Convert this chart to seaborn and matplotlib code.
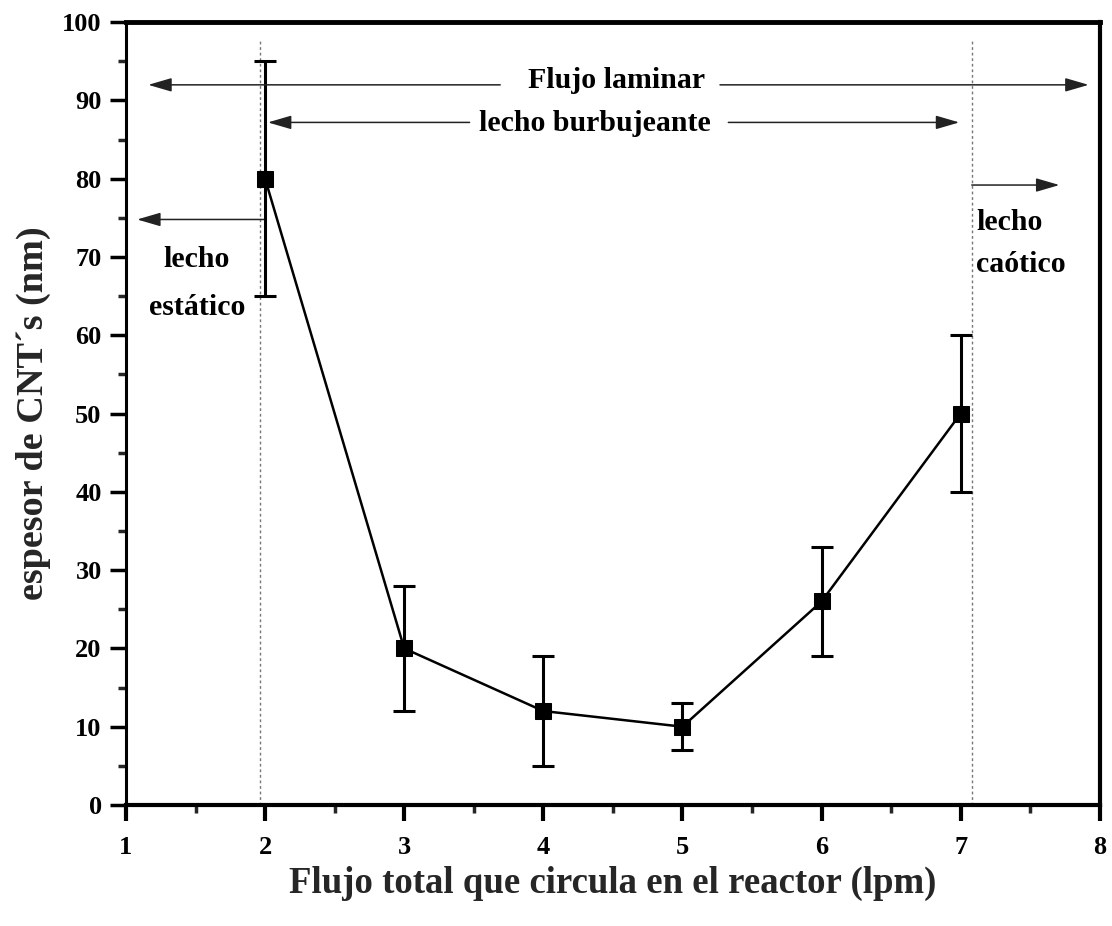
import matplotlib
matplotlib.use("Agg")
import matplotlib.pyplot as plt
import seaborn as sns
import pandas as pd
from matplotlib.ticker import MultipleLocator

# Measured thickness vs. total flow
flujo = [2, 3, 4, 5, 6, 7]
espesor = [80, 20, 12, 10, 26, 50]
err_inf = [15, 8, 7, 3, 7, 10]
err_sup = [15, 8, 7, 3, 7, 10]

# Regime boundaries (flow, lpm)
limites = [1.963, 7.08]

sns.set_theme(style="ticks")
plt.rcParams["font.family"] = ["Liberation Serif", "DejaVu Serif"]
plt.rcParams["font.weight"] = "bold"

df = pd.DataFrame({"flujo": flujo, "espesor": espesor})

fig = plt.figure(figsize=(11.12, 9.26), dpi=100)
ax = fig.add_axes([0.1133, 0.1307, 0.8757, 0.8453])

ax.errorbar(flujo, espesor, yerr=[err_inf, err_sup], fmt="none",
            ecolor="black", elinewidth=2.2, capsize=8, capthick=2.2, zorder=3)
sns.lineplot(data=df, x="flujo", y="espesor", ax=ax, color="black",
             linewidth=1.8, marker="s", markersize=12, markeredgecolor="black",
             markerfacecolor="black", zorder=4)

for xl in limites:
    ax.axvline(xl, ymin=0, ymax=0.977, color="#777777", linestyle=(0, (2, 2)),
               linewidth=1.0, zorder=1)

arrow_kw = dict(arrowstyle="-|>,head_length=1.2,head_width=0.35",
                color="#222222", lw=1.1, shrinkA=0, shrinkB=0)
txt_kw = dict(fontsize=21.5, fontweight="bold", color="black")

# Flujo laminar
ax.annotate("", xy=(1.16, 92), xytext=(3.69, 92), arrowprops=arrow_kw)
ax.annotate("", xy=(7.92, 92), xytext=(5.27, 92), arrowprops=arrow_kw)
ax.text(4.53, 92.6, "Flujo laminar", ha="center", va="center", **txt_kw)

# lecho burbujeante
ax.annotate("", xy=(2.02, 87.2), xytext=(3.47, 87.2), arrowprops=arrow_kw)
ax.annotate("", xy=(6.99, 87.2), xytext=(5.33, 87.2), arrowprops=arrow_kw)
ax.text(4.37, 87.0, "lecho burbujeante", ha="center", va="center", **txt_kw)

# lecho estático
ax.annotate("", xy=(1.08, 74.8), xytext=(1.99, 74.8), arrowprops=arrow_kw)
ax.text(1.51, 69.7, "lecho", ha="center", va="center", **txt_kw)
ax.text(1.51, 63.6, "estático", ha="center", va="center", **txt_kw)

# lecho caótico
ax.annotate("", xy=(7.71, 79.2), xytext=(7.08, 79.2), arrowprops=arrow_kw)
ax.text(7.11, 74.4, "lecho", ha="left", va="center", **txt_kw)
ax.text(7.11, 69.0, "caótico", ha="left", va="center", **txt_kw)

ax.set_xlim(1, 8)
ax.set_ylim(0, 100)
ax.xaxis.set_major_locator(MultipleLocator(1))
ax.xaxis.set_minor_locator(MultipleLocator(0.5))
ax.yaxis.set_major_locator(MultipleLocator(10))
ax.yaxis.set_minor_locator(MultipleLocator(5))

ax.set_xlabel("Flujo total que circula en el reactor (lpm)", fontsize=26.5,
              fontweight="bold", labelpad=5)
ax.set_ylabel("espesor de CNT´s (nm)", fontsize=27.5, fontweight="bold",
              labelpad=8)

for side, lw in {"top": 3.5, "left": 2.2, "bottom": 3.0, "right": 3.0}.items():
    ax.spines[side].set_linewidth(lw)
    ax.spines[side].set_color("black")
    ax.spines[side].set_visible(True)

ax.tick_params(axis="both", which="major", direction="out", length=11.5, width=2.5,
               labelsize=19, colors="black", top=False, right=False)
ax.tick_params(axis="both", which="minor", direction="out", length=6, width=2.5,
               top=False, right=False)
ax.tick_params(axis="x", which="major", pad=11, width=3)
ax.tick_params(axis="y", which="major", pad=6)
for lab in ax.get_xticklabels() + ax.get_yticklabels():
    lab.set_fontweight("bold")

fig.savefig("out.png", dpi=100)
